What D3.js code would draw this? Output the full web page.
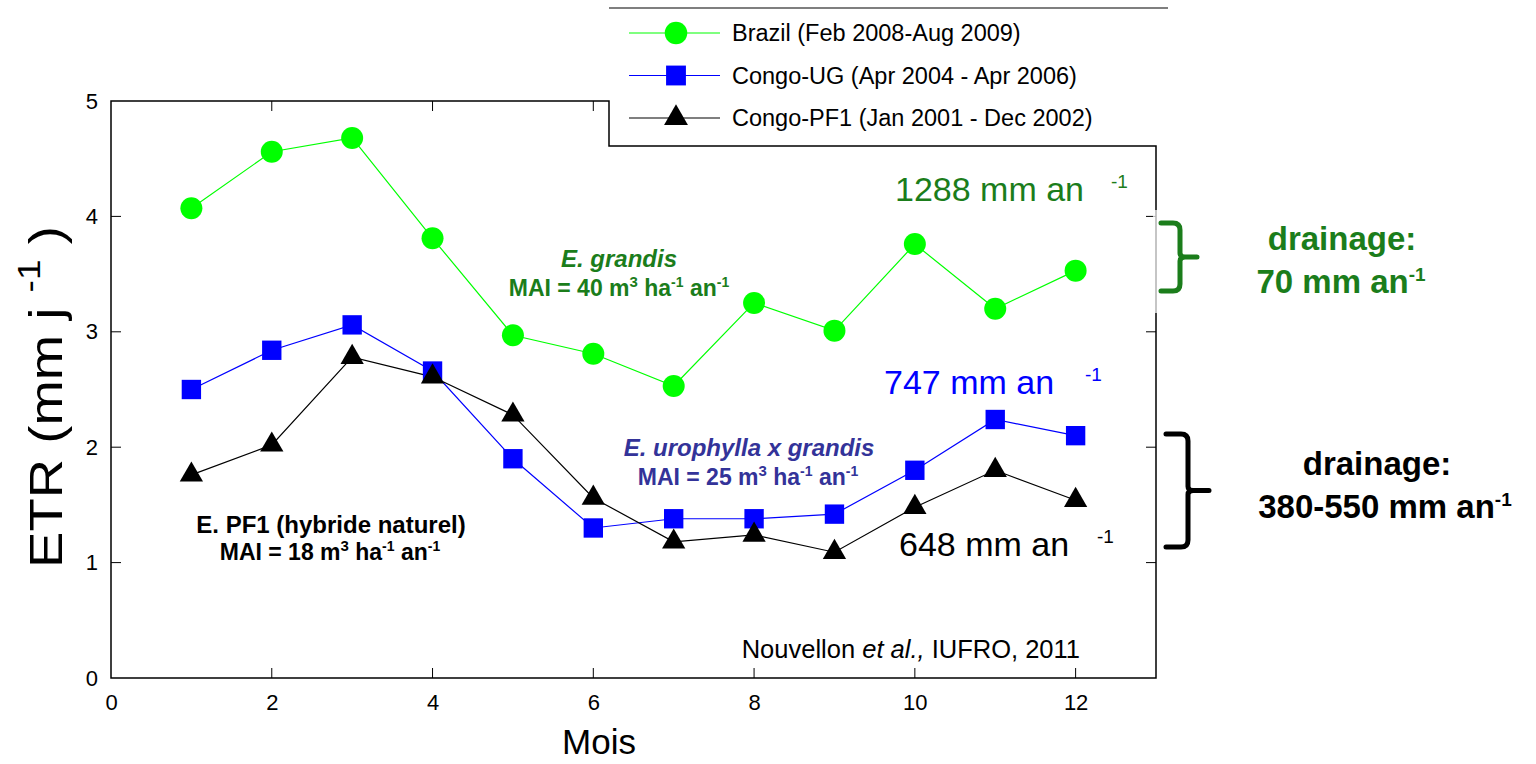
<!DOCTYPE html>
<html>
<head>
<meta charset="utf-8">
<script src="https://cdn.jsdelivr.net/npm/d3@7"></script>
<style>
  html, body { margin: 0; padding: 0; background: #fff; }
  svg { display: block; font-family: "Liberation Sans", Arial, sans-serif; }
</style>
</head>
<body>
<svg id="chart" width="1536" height="764"></svg>
<script>
// Monthly evapotranspiration (ETR, mm/day) for three eucalyptus stands
const months = [1, 2, 3, 4, 5, 6, 7, 8, 9, 10, 11, 12];
const brazil = [4.07, 4.56, 4.68, 3.81, 2.97, 2.81, 2.53, 3.25, 3.01, 3.76, 3.20, 3.53];
const congoUG = [2.50, 2.84, 3.06, 2.66, 1.90, 1.30, 1.38, 1.38, 1.42, 1.80, 2.24, 2.10];
const congoPF1 = [1.76, 2.02, 2.78, 2.61, 2.28, 1.56, 1.18, 1.24, 1.09, 1.48, 1.80, 1.54];

const xTicks = [0, 2, 4, 6, 8, 10, 12];
const yTicks = [0, 1, 2, 3, 4, 5];

const seriesNames = ["Brazil (Feb 2008-Aug 2009)", "Congo-UG (Apr 2004 - Apr 2006)", "Congo-PF1 (Jan 2001 - Dec 2002)"];
const seriesColors = ["#00ff00", "#0000ff", "#000000"];
const seriesSymbols = [d3.symbolCircle, d3.symbolSquare, d3.symbolTriangle];
const seriesSizes = [380, 375, 235];

const series = [brazil, congoUG, congoPF1].map((vals, i) => ({
  name: seriesNames[i], color: seriesColors[i], symbol: seriesSymbols[i], size: seriesSizes[i],
  values: months.map((m, j) => ({ x: m, y: vals[j] }))
}));

const svg = d3.select("#chart");
const pL = 111, pR = 1156, pT = 101, pB = 678;
const x = d3.scaleLinear().domain([0, 13]).range([pL, pR]);
const y = d3.scaleLinear().domain([0, 5]).range([pB, pT]);

const green = "#1b7d1b";
const purple = "#333399";

// Frame: the top edge steps down under the legend block
const legendBottom = 146, legendLeft = 609;
svg.append("path")
  .attr("d", `M${pL},${pB}V${pT}H${legendLeft}V${legendBottom}H${pR}V${pB}Z`)
  .attr("fill", "none").attr("stroke", "#000").attr("stroke-width", 1.5);

// Inward ticks on all four sides
const tickLen = 10;
const g = svg.append("g");
xTicks.filter(t => t > 0).forEach(t => {
  g.append("line").attr("x1", x(t)).attr("x2", x(t)).attr("y1", pB).attr("y2", pB - tickLen).attr("stroke", "#000");
  if (x(t) < legendLeft) g.append("line").attr("x1", x(t)).attr("x2", x(t)).attr("y1", pT).attr("y2", pT + tickLen).attr("stroke", "#000");
});
yTicks.filter(t => t > 0 && t < 5).forEach(t => {
  g.append("line").attr("x1", pL).attr("x2", pL + tickLen).attr("y1", y(t)).attr("y2", y(t)).attr("stroke", "#000");
  g.append("line").attr("x1", pR).attr("x2", pR - tickLen).attr("y1", y(t)).attr("y2", y(t)).attr("stroke", "#000");
});
// faded stretch of the right edge behind the upper brace
svg.append("rect").attr("x", pR - 3).attr("y", 210).attr("width", 6).attr("height", 103)
  .attr("fill", "#fff").attr("opacity", 0.7);

// Tick labels
const xAxis = d3.axisBottom(x).tickValues(xTicks).tickFormat(d3.format("d")).tickSize(0).tickPadding(16);
svg.append("g").attr("transform", `translate(0,${pB})`).call(xAxis)
  .call(s => s.select(".domain").remove())
  .selectAll("text").attr("font-size", 22).attr("font-family", "Liberation Sans, Arial, sans-serif").attr("fill", "#000");
const yAxis = d3.axisLeft(y).tickValues(yTicks).tickFormat(d3.format("d")).tickSize(0).tickPadding(13);
svg.append("g").attr("transform", `translate(${pL},0)`).call(yAxis)
  .call(s => s.select(".domain").remove())
  .selectAll("text").attr("font-size", 22).attr("font-family", "Liberation Sans, Arial, sans-serif").attr("fill", "#000");

// Axis titles
svg.append("text").attr("x", 599).attr("y", 754).attr("text-anchor", "middle")
  .attr("font-size", 35).text("Mois");
const yt = svg.append("text").attr("transform", "translate(62,397) rotate(-90) scale(1.16,1)")
  .attr("text-anchor", "middle").attr("font-size", 47);
yt.append("tspan").text("ETR (mm j ");
yt.append("tspan").attr("font-size", 32).attr("dy", -22).text("-1");
yt.append("tspan").attr("dy", 22).text(" )");

// Lines and markers
const line = d3.line().x(d => x(d.x)).y(d => y(d.y));
series.forEach(s => {
  svg.append("path").datum(s.values).attr("d", line)
    .attr("fill", "none").attr("stroke", s.color).attr("stroke-width", 1.2);
});
series.forEach(s => {
  svg.append("g").selectAll("path").data(s.values).join("path")
    .attr("transform", d => `translate(${x(d.x)},${y(d.y)})`)
    .attr("d", d3.symbol().type(s.symbol).size(s.size))
    .attr("fill", s.color);
});

// Legend
svg.append("line").attr("x1", 609).attr("x2", 1168).attr("y1", 8).attr("y2", 8)
  .attr("stroke", "#555").attr("stroke-width", 1.5);
series.forEach((s, i) => {
  const ly = 33 + i * 42.5;
  svg.append("line").attr("x1", 629).attr("x2", 720).attr("y1", ly).attr("y2", ly)
    .attr("stroke", s.color).attr("stroke-width", 1.2);
  svg.append("path").attr("transform", `translate(676,${ly})`)
    .attr("d", d3.symbol().type(s.symbol).size(s.size * 1.05)).attr("fill", s.color);
  svg.append("text").attr("x", 732).attr("y", ly + 8).attr("font-size", 23.5).attr("fill", "#000").text(s.name);
});

// Text helper with superscript pieces: parts = [[text, isSup, supSize, shift], ...]
function rich(xp, yp, parts, opts) {
  const t = svg.append("text").attr("x", xp).attr("y", yp)
    .attr("text-anchor", opts.anchor || "start")
    .attr("font-size", opts.size).attr("fill", opts.color)
    .attr("font-weight", opts.weight || "normal")
    .attr("font-style", opts.style || "normal");
  let raised = 0;
  parts.forEach(([txt, sup, supSize, shift]) => {
    const sp = t.append("tspan").text(txt);
    if (sup) { sp.attr("dy", -shift - raised).attr("font-size", supSize); raised = shift; }
    else if (raised) { sp.attr("dy", raised); raised = 0; }
  });
  return t;
}
function unitSup(xp, yp, color, size) {
  svg.append("text").attr("x", xp).attr("y", yp).attr("font-size", size).attr("fill", color).text("-1");
}

// Annual totals
rich(895, 201, [["1288 mm an", false]], { size: 34, color: green });
unitSup(1111, 188, green, 19);
rich(884, 394, [["747 mm an", false]], { size: 34, color: "#0000ff" });
unitSup(1085, 381, "#0000ff", 19);
rich(899, 556, [["648 mm an", false]], { size: 34, color: "#000" });
unitSup(1097, 543, "#000", 19);

// Species / productivity notes
const maiParts = v => [["MAI = " + v + " m", false], ["3", true, 15, 9], [" ha", false], ["-1", true, 14, 9], [" an", false], ["-1", true, 14, 9]];
rich(619, 267, [["E. grandis", false]], { size: 24, color: green, weight: "bold", style: "italic", anchor: "middle" });
rich(619, 296, maiParts(40), { size: 23, color: green, weight: "bold", anchor: "middle" });

rich(749, 456, [["E. urophylla x grandis", false]], { size: 24, color: purple, weight: "bold", style: "italic", anchor: "middle" });
rich(748, 485, maiParts(25), { size: 23, color: purple, weight: "bold", anchor: "middle" });

rich(331, 533, [["E. PF1 (hybride naturel)", false]], { size: 24, color: "#000", weight: "bold", anchor: "middle" });
rich(330, 560, maiParts(18), { size: 23, color: "#000", weight: "bold", anchor: "middle" });

// Citation
rich(1080, 658, [["Nouvellon ", false]], { size: 25.5, color: "#000", anchor: "end" })
  .call(t => { t.append("tspan").attr("font-style", "italic").text("et al.,"); t.append("tspan").text(" IUFRO, 2011"); });

// Drainage braces
function brace(x0, xs, xm, y0, y1, color) {
  const ym = (y0 + y1) / 2, r = 7;
  svg.append("path")
    .attr("d", `M${x0},${y0}H${xs - r}Q${xs},${y0} ${xs},${y0 + r}V${ym - 4}Q${xs},${ym} ${xs + 5},${ym}H${xm}` +
      `M${xs + 5},${ym}Q${xs},${ym} ${xs},${ym + 4}V${y1 - r}Q${xs},${y1} ${xs - r},${y1}H${x0}`)
    .attr("fill", "none").attr("stroke", color).attr("stroke-width", 5).attr("stroke-linecap", "round");
}
brace(1161, 1180, 1197, 223, 291, green);
brace(1166, 1188, 1209, 434, 547, "#000");

rich(1342, 250, [["drainage:", false]], { size: 33, color: green, weight: "bold", anchor: "middle" });
rich(1341, 293, [["70 mm an", false], ["-1", true, 19, 12]], { size: 33, color: green, weight: "bold", anchor: "middle" });
rich(1377, 475, [["drainage:", false]], { size: 33, color: "#000", weight: "bold", anchor: "middle" });
rich(1385, 518, [["380-550 mm an", false], ["-1", true, 19, 12]], { size: 33, color: "#000", weight: "bold", anchor: "middle" });
</script>
</body>
</html>
